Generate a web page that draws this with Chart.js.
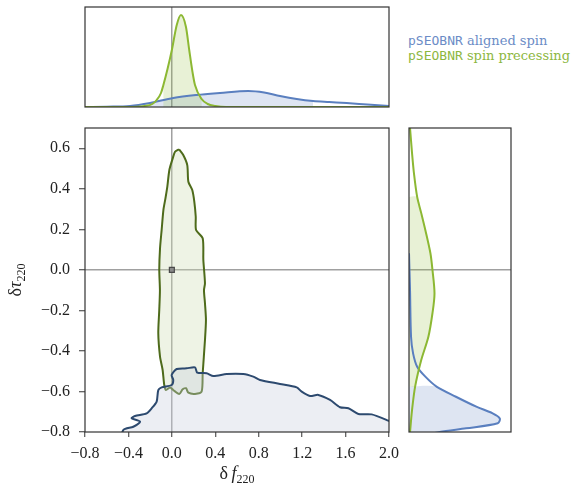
<!DOCTYPE html>
<html>
<head>
<meta charset="utf-8">
<script src="https://cdn.jsdelivr.net/npm/chart.js@4.4.1/dist/chart.umd.min.js"></script>
<style>
  html, body { margin: 0; padding: 0; background: #fff; }
  #wrap { position: relative; width: 576px; height: 487px; overflow: hidden; font-family: "Liberation Serif", serif; color: #222; }
  canvas { position: absolute; }
  #topChart { left: 80px; top: 2px; }
  #rightChart { left: 404px; top: 123px; }
  #mainChart { left: 0; top: 118px; }
  .legend { position: absolute; left: 408px; top: 33px; font-family: "DejaVu Serif", serif; font-size: 13px; line-height: 15px; white-space: nowrap; }
  .legend .mono { font-family: "DejaVu Sans Mono", monospace; }
  .xtitle { position: absolute; left: 137px; top: 463px; width: 200px; text-align: center; font-size: 18px; line-height: 20px; }
  .ytitle { position: absolute; left: -85px; top: 270px; width: 200px; height: 20px; text-align: center; font-size: 18px; line-height: 20px; transform: rotate(-90deg); }
  sub { font-size: 12px; vertical-align: -4px; line-height: 0; }
</style>
</head>
<body>
<div id="wrap">
  <canvas id="topChart" width="314" height="110"></canvas>
  <canvas id="rightChart" width="112" height="314"></canvas>
  <canvas id="mainChart" width="405" height="369"></canvas>
  <div class="legend">
    <div style="color:#6b8cc6"><span class="mono">pSEOBNR</span> aligned spin</div>
    <div style="color:#8db73f"><span class="mono">pSEOBNR</span> spin precessing</div>
  </div>
  <div class="xtitle">δ&#8201;<i>f</i><sub>220</sub></div>
  <div class="ytitle">δ<i>τ</i><sub>220</sub></div>
</div>
<script>
// axis ticks
const fTicks = [-0.8, -0.4, 0.0, 0.4, 0.8, 1.2, 1.6, 2.0];
const tauTicks = [-0.8, -0.6, -0.4, -0.2, 0.0, 0.2, 0.4, 0.6];
const grPoint = [0, 0];

// 90% contours (closed outlines)
const alignedContourF = [-0.5, -0.447, -0.355, -0.293, -0.37, -0.34, -0.232, -0.186, -0.14, -0.125, -0.094, -0.002, 0.013, -0.002, 0.045, 0.136, 0.213, 0.234, 0.32, 0.382, 0.505, 0.658, 0.75, 0.812, 0.996, 1.15, 1.196, 1.272, 1.349, 1.457, 1.549, 1.626, 1.718, 1.841, 1.994, 2.1, 2.1, -0.5];
const alignedContourTau = [-0.9, -0.79, -0.774, -0.749, -0.732, -0.721, -0.708, -0.683, -0.65, -0.593, -0.58, -0.568, -0.543, -0.519, -0.489, -0.486, -0.481, -0.507, -0.51, -0.524, -0.514, -0.514, -0.527, -0.543, -0.563, -0.58, -0.601, -0.622, -0.617, -0.642, -0.678, -0.683, -0.711, -0.713, -0.744, -0.77, -0.9, -0.9];
const precessingContourF = [0.066, 0.029, 0.008, -0.023, -0.042, -0.06, -0.078, -0.094, -0.109, -0.116, -0.11, -0.116, -0.125, -0.109, -0.085, -0.07, -0.054, -0.017, 0.013, 0.068, 0.1, 0.13, 0.152, 0.213, 0.274, 0.284, 0.305, 0.314, 0.305, 0.296, 0.305, 0.29, 0.284, 0.223, 0.22, 0.207, 0.188, 0.152, 0.142, 0.105, 0.066];
const precessingContourTau = [0.595, 0.583, 0.55, 0.493, 0.41, 0.35, 0.295, 0.197, 0.106, 0.0, -0.1, -0.198, -0.313, -0.428, -0.494, -0.568, -0.593, -0.58, -0.593, -0.612, -0.589, -0.584, -0.606, -0.612, -0.601, -0.51, -0.346, -0.247, -0.165, -0.1, -0.066, 0.049, 0.156, 0.197, 0.262, 0.336, 0.394, 0.435, 0.517, 0.567, 0.595];

// marginal of delta f (top panel)
const alignedTopF = [-0.8, -0.6, -0.385, -0.2, 0.013, 0.229, 0.443, 0.704, 0.85, 0.996, 1.15, 1.3, 1.45, 1.61, 1.8, 2.0];
const alignedTopDensity = [0, 0.003, 0.01, 0.04, 0.09, 0.12, 0.14, 0.16, 0.145, 0.11, 0.08, 0.06, 0.05, 0.04, 0.025, 0.01];
const precessingTopF = [-0.8, -0.4, -0.25, -0.18, -0.14, -0.1, -0.078, -0.04, 0.0, 0.045, 0.084, 0.13, 0.16, 0.19, 0.213, 0.274, 0.33, 0.4, 0.5, 2.0];
const precessingTopDensity = [0, 0, 0.01, 0.03, 0.07, 0.14, 0.22, 0.38, 0.57, 0.82, 0.92, 0.8, 0.57, 0.35, 0.22, 0.08, 0.03, 0.01, 0, 0];

// marginal of delta tau (right panel)
const alignedRightTau = [0.082, -0.1, -0.33, -0.412, -0.478, -0.527, -0.576, -0.626, -0.675, -0.708, -0.733, -0.757, -0.782, -0.8, -0.83];
const alignedRightDensity = [0, 0.01, 0.02, 0.04, 0.08, 0.16, 0.27, 0.46, 0.66, 0.82, 0.89, 0.87, 0.56, 0.3, 0.05];
const precessingRightTau = [0.7, 0.575, 0.47, 0.36, 0.28, 0.197, 0.082, 0.0, -0.116, -0.214, -0.33, -0.445, -0.576, -0.691, -0.8];
const precessingRightDensity = [0.01, 0.03, 0.05, 0.08, 0.12, 0.16, 0.21, 0.23, 0.25, 0.23, 0.19, 0.12, 0.06, 0.03, 0.01];

// shaded credible intervals
const alignedTopBand = [-0.2, 1.3];
const precessingTopBand = [-0.078, 0.274];
const alignedRightBand = [-0.83, -0.576];
const precessingRightBand = [-0.576, 0.36];

const BLUE = '#5a7fbf', GREEN = '#8cb833';
const GRID_GRAY = '#a0a0a0';

const pts = (xs, ys) => xs.map((x, i) => ({ x: x, y: ys[i] }));

// closed polygon under a curve between two values of the parameter axis
function bandTop(xs, ys, band) {
  const inner = pts(xs, ys).filter(p => p.x >= band[0] && p.x <= band[1]);
  return [{ x: band[0], y: 0 }, ...inner, { x: band[1], y: 0 }];
}
function bandRight(taus, dens, band) {
  const inner = pts(dens, taus).filter(p => p.y >= band[0] && p.y <= band[1]);
  return [{ x: 0, y: inner[0].y }, ...inner, { x: 0, y: inner[inner.length - 1].y }];
}

const framePlugin = {
  id: 'frame',
  afterDraw(chart) {
    const { ctx, chartArea: a } = chart;
    ctx.save();
    ctx.strokeStyle = '#333';
    ctx.lineWidth = 1.2;
    ctx.strokeRect(a.left, a.top, a.width, a.height);
    ctx.restore();
  }
};

const zeroGrid = ctx => (ctx.tick && ctx.tick.value === 0 ? GRID_GRAY : 'rgba(0,0,0,0)');
const tickFont = { family: '"Liberation Serif", serif', size: 16 };
const fmt = v => (v < 0 ? '\u2212' : '') + Math.abs(v).toFixed(1);
const noPad = s => { s.paddingTop = 0; s.paddingBottom = 0; s.paddingLeft = 0; s.paddingRight = 0; };

// main panel
new Chart(document.getElementById('mainChart'), {
  type: 'line',
  data: {
    datasets: [
      {
        data: [{ x: grPoint[0], y: grPoint[1] }],
        showLine: false,
        pointStyle: 'rect',
        pointRadius: 3.5,
        backgroundColor: '#8a8a8a',
        borderColor: '#4a4a4a',
        pointBorderWidth: 1.2,
        order: 0
      },
      {
        data: pts(alignedContourF, alignedContourTau),
        borderColor: '#2d4a6f',
        borderWidth: 2,
        backgroundColor: 'rgba(200,206,222,0.35)',
        fill: 'shape',
        pointRadius: 0,
        tension: 0.25,
        order: 1
      },
      {
        data: pts(precessingContourF, precessingContourTau),
        borderColor: '#4e6b1b',
        borderWidth: 2,
        backgroundColor: 'rgba(205,220,180,0.35)',
        fill: 'shape',
        pointRadius: 0,
        tension: 0.25,
        order: 2
      }
    ]
  },
  options: {
    responsive: false,
    animation: false,
    layout: { padding: { top: 10, right: 16, left: 0, bottom: 0 } },
    plugins: { legend: { display: false }, tooltip: { enabled: false } },
    scales: {
      x: {
        type: 'linear',
        min: -0.8,
        max: 2.0,
        afterBuildTicks: s => { s.ticks = fTicks.map(v => ({ value: v })); },
        afterFit: s => { s.height = 55; noPad(s); },
        ticks: { font: tickFont, color: '#222', padding: 7, maxRotation: 0, callback: fmt },
        grid: { color: zeroGrid, lineWidth: 1.5, tickColor: '#333', tickLength: 5, tickWidth: 1 },
        border: { display: false }
      },
      y: {
        type: 'linear',
        min: -0.8,
        max: 0.7,
        afterBuildTicks: s => { s.ticks = tauTicks.map(v => ({ value: v })); },
        afterFit: s => { s.width = 85; noPad(s); },
        ticks: { font: tickFont, color: '#222', padding: 9, callback: fmt },
        grid: { color: zeroGrid, lineWidth: 1.5, tickColor: '#333', tickLength: 6, tickWidth: 1 },
        border: { display: false }
      }
    }
  },
  plugins: [framePlugin]
});

// top marginal
new Chart(document.getElementById('topChart'), {
  type: 'line',
  data: {
    datasets: [
      { data: pts(precessingTopF, precessingTopDensity), borderColor: GREEN, borderWidth: 2, pointRadius: 0, cubicInterpolationMode: 'monotone', fill: false, order: 0 },
      { data: pts(alignedTopF, alignedTopDensity), borderColor: BLUE, borderWidth: 2, pointRadius: 0, cubicInterpolationMode: 'monotone', fill: false, order: 1 },
      { data: bandTop(precessingTopF, precessingTopDensity, precessingTopBand), borderWidth: 0, pointRadius: 0, cubicInterpolationMode: 'monotone', backgroundColor: 'rgba(140,184,51,0.2)', fill: 'shape', order: 2 },
      { data: bandTop(alignedTopF, alignedTopDensity, alignedTopBand), borderWidth: 0, pointRadius: 0, cubicInterpolationMode: 'monotone', backgroundColor: 'rgba(90,127,191,0.2)', fill: 'shape', order: 3 }
    ]
  },
  options: {
    responsive: false,
    animation: false,
    layout: { padding: 5 },
    plugins: { legend: { display: false }, tooltip: { enabled: false } },
    scales: {
      x: {
        type: 'linear', min: -0.8, max: 2.0,
        afterBuildTicks: s => { s.ticks = [{ value: 0 }]; },
        afterFit: s => { s.height = 0; noPad(s); },
        ticks: { display: false },
        grid: { color: zeroGrid, lineWidth: 1.5, drawTicks: false },
        border: { display: false }
      },
      y: { type: 'linear', min: 0, max: 1, display: false }
    }
  },
  plugins: [framePlugin]
});

// right marginal
new Chart(document.getElementById('rightChart'), {
  type: 'line',
  data: {
    datasets: [
      { data: pts(precessingRightDensity, precessingRightTau), borderColor: GREEN, borderWidth: 2, pointRadius: 0, tension: 0.3, fill: false, order: 0 },
      { data: pts(alignedRightDensity, alignedRightTau), borderColor: BLUE, borderWidth: 2, pointRadius: 0, tension: 0.3, fill: false, order: 1 },
      { data: bandRight(precessingRightTau, precessingRightDensity, precessingRightBand), borderWidth: 0, pointRadius: 0, tension: 0.3, backgroundColor: 'rgba(140,184,51,0.2)', fill: 'shape', order: 2 },
      { data: bandRight(alignedRightTau, alignedRightDensity, alignedRightBand), borderWidth: 0, pointRadius: 0, tension: 0.3, backgroundColor: 'rgba(90,127,191,0.2)', fill: 'shape', order: 3 }
    ]
  },
  options: {
    responsive: false,
    animation: false,
    layout: { padding: 5 },
    plugins: { legend: { display: false }, tooltip: { enabled: false } },
    scales: {
      x: { type: 'linear', min: 0, max: 1, display: false },
      y: {
        type: 'linear', min: -0.8, max: 0.7,
        afterBuildTicks: s => { s.ticks = [{ value: 0 }]; },
        afterFit: s => { s.width = 0; noPad(s); },
        ticks: { display: false },
        grid: { color: zeroGrid, lineWidth: 1.5, drawTicks: false },
        border: { display: false }
      }
    }
  },
  plugins: [framePlugin]
});
</script>
</body>
</html>
